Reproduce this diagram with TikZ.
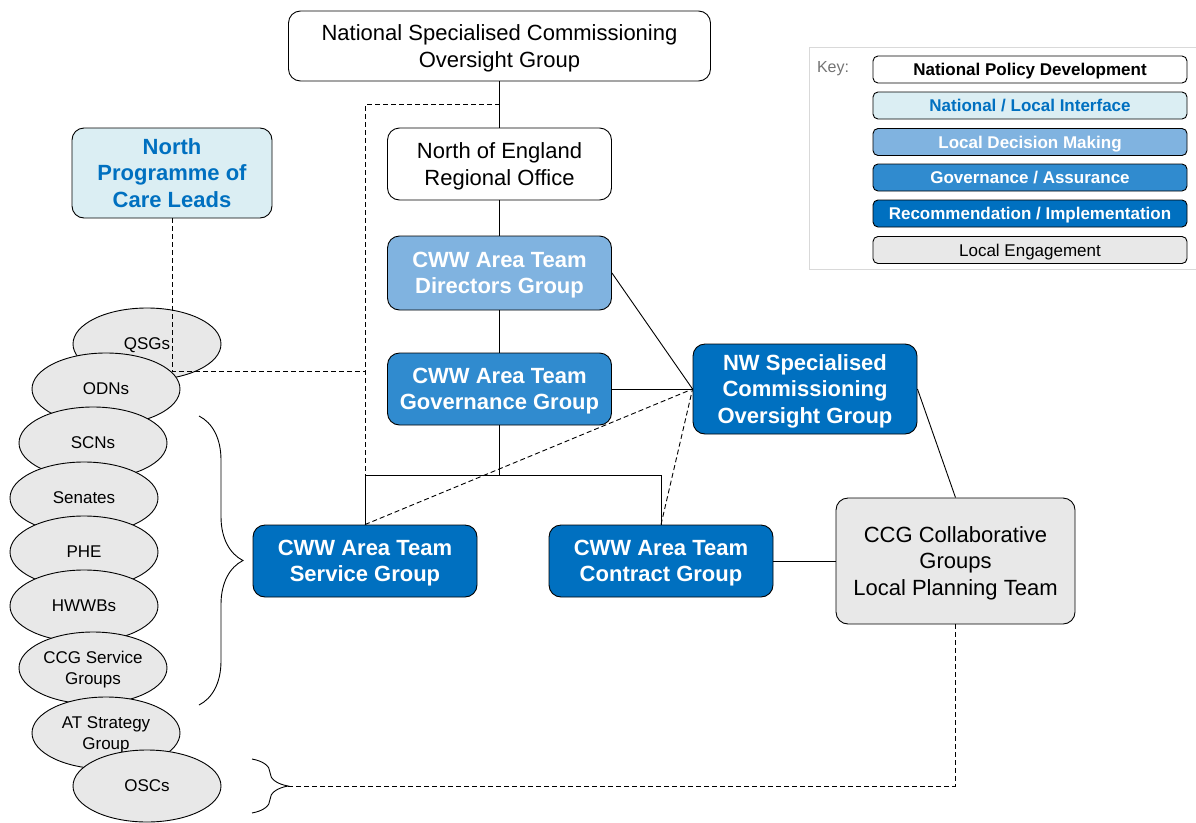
\documentclass[tikz,border=0pt]{standalone}
\usepackage{fontspec}
\setmainfont{Liberation Sans}
\usetikzlibrary{shapes.geometric,positioning,calc,decorations.pathreplacing}

\definecolor{interface}{RGB}{219,238,243}
\definecolor{decision}{RGB}{128,179,224}
\definecolor{governance}{RGB}{48,139,207}
\definecolor{implement}{RGB}{0,112,192}
\definecolor{engage}{RGB}{232,232,232}
\definecolor{keyframe}{RGB}{217,217,217}

\begin{document}
\begin{tikzpicture}[
    x=1pt, y=-1pt,
    line width=0.9pt,
    group/.style={draw, rounded corners=12pt, minimum width=224pt, minimum height=72pt, text depth=0pt, align=center, font=\fontsize{22}{26.5}\selectfont},
    policy/.style={group, fill=white},
    linkbox/.style={group, fill=interface, text=implement, font=\fontsize{22}{26.5}\selectfont\bfseries},
    decide/.style={group, fill=decision, text=white, font=\fontsize{22}{26.5}\selectfont\bfseries},
    assure/.style={group, fill=governance, text=white, font=\fontsize{22}{26.5}\selectfont\bfseries},
    deliver/.style={group, fill=implement, text=white, font=\fontsize{22}{26.5}\selectfont\bfseries},
    engaged/.style={group, fill=engage},
    forum/.style={draw, ellipse, fill=engage, inner sep=0pt, minimum width=148pt, minimum height=72pt, text depth=0pt, align=center, font=\fontsize{17}{21}\selectfont},
    keybox/.style={draw, rounded corners=5pt, minimum width=314pt, minimum height=27pt, inner sep=0pt, text depth=0pt, font=\fontsize{17}{20}\selectfont\bfseries},
    dashline/.style={dashed, dash pattern=on 5pt off 3pt}
]
    \useasboundingbox (0,0) rectangle (1196,822);

    % national and regional chain
    \node[policy, minimum width=422pt, minimum height=70pt] (natl) at (499.5,46) {National Specialised Commissioning\\Oversight Group};
    \node[policy] (noe) at (499.5,164) {North of England\\Regional Office};
    \node[decide, minimum height=74pt] (dir) at (499.5,273) {CWW Area Team\\Directors Group};
    \node[assure] (gov) at (499.5,389) {CWW Area Team\\Governance Group};
    \node[deliver, minimum height=90pt] (nw) at (805,389) {NW Specialised\\Commissioning\\Oversight Group};
    \node[deliver] (svc) at (365,561) {CWW Area Team\\Service Group};
    \node[deliver] (ctr) at (661,561) {CWW Area Team\\Contract Group};
    \node[engaged, minimum width=239pt, minimum height=126pt] (ccg) at (955.5,561) {CCG Collaborative\\Groups\\Local Planning Team};
    \node[linkbox, minimum width=200pt, minimum height=90pt] (npoc) at (172,173) {North\\Programme of\\Care Leads};

    % local forums, each one overlapping the one above
    \node[forum] (qsg) at (147,344) {QSGs};
    \node[forum] (odn) at (106,389) {ODNs};
    \node[forum] (scn) at (93,443) {SCNs};
    \node[forum] (sen) at (84,498) {Senates};
    \node[forum] (phe) at (84,552) {PHE};
    \node[forum] (hwb) at (84,606) {HWWBs};
    \node[forum] (ccgsg) at (93,668) {CCG Service\\Groups};
    \node[forum] (ats) at (106,733) {AT Strategy\\Group};
    \node[forum] (osc) at (147,786) {OSCs};

    % solid reporting lines
    \draw (natl.south) -- (noe.north);
    \draw (noe.south) -- (dir.north);
    \draw (dir.south) -- (gov.north);
    \draw (gov.south) -- ++(0,50) coordinate (split);
    \draw (svc.north) |- (split) -| (ctr.north);
    \draw (dir.east) -- (nw.west);
    \draw (gov.east) -- (nw.west);
    \draw (nw.east) -- (ccg.north);
    \draw (ctr.east) -- (ccg.west);

    % dashed links
    \coordinate (qsgjoin) at (svc.north |- 0,371);
    \draw[dashline] ($(natl.south)!0.5!(noe.north)$) -| (svc.north);
    \draw[dashline] (npoc.south) |- (qsgjoin);
    \draw[dashline] (svc.north) -- (nw.west);
    \draw[dashline] (ctr.north) -- (nw.west);

    % braces
    \draw[decorate, decoration={brace, amplitude=44pt}] (199,416) -- (199,705);
    \draw[decorate, decoration={brace, amplitude=36pt}] (252,759) -- (252,813);
    \coordinate (osctip) at (288,786);
    \draw[dashline] (ccg.south) |- (osctip);

    % key
    \draw[keyframe] (809,47) rectangle (1200,269);
    \node[text=black!55, font=\fontsize{16}{18}\selectfont] (keylbl) at (833,69) {Key:};
    \node[keybox, fill=white] (k1) at (1030,69.5) {National Policy Development};
    \node[keybox, fill=interface, text=implement] (k2) at (1030,105.5) {National / Local Interface};
    \node[keybox, fill=decision, text=white] (k3) at (1030,142) {Local Decision Making};
    \node[keybox, fill=governance, text=white] (k4) at (1030,177.5) {Governance / Assurance};
    \node[keybox, fill=implement, text=white] (k5) at (1030,213.5) {Recommendation / Implementation};
    \node[keybox, fill=engage, font=\fontsize{17}{20}\selectfont] (k6) at (1030,250) {Local Engagement};
\end{tikzpicture}
\end{document}
